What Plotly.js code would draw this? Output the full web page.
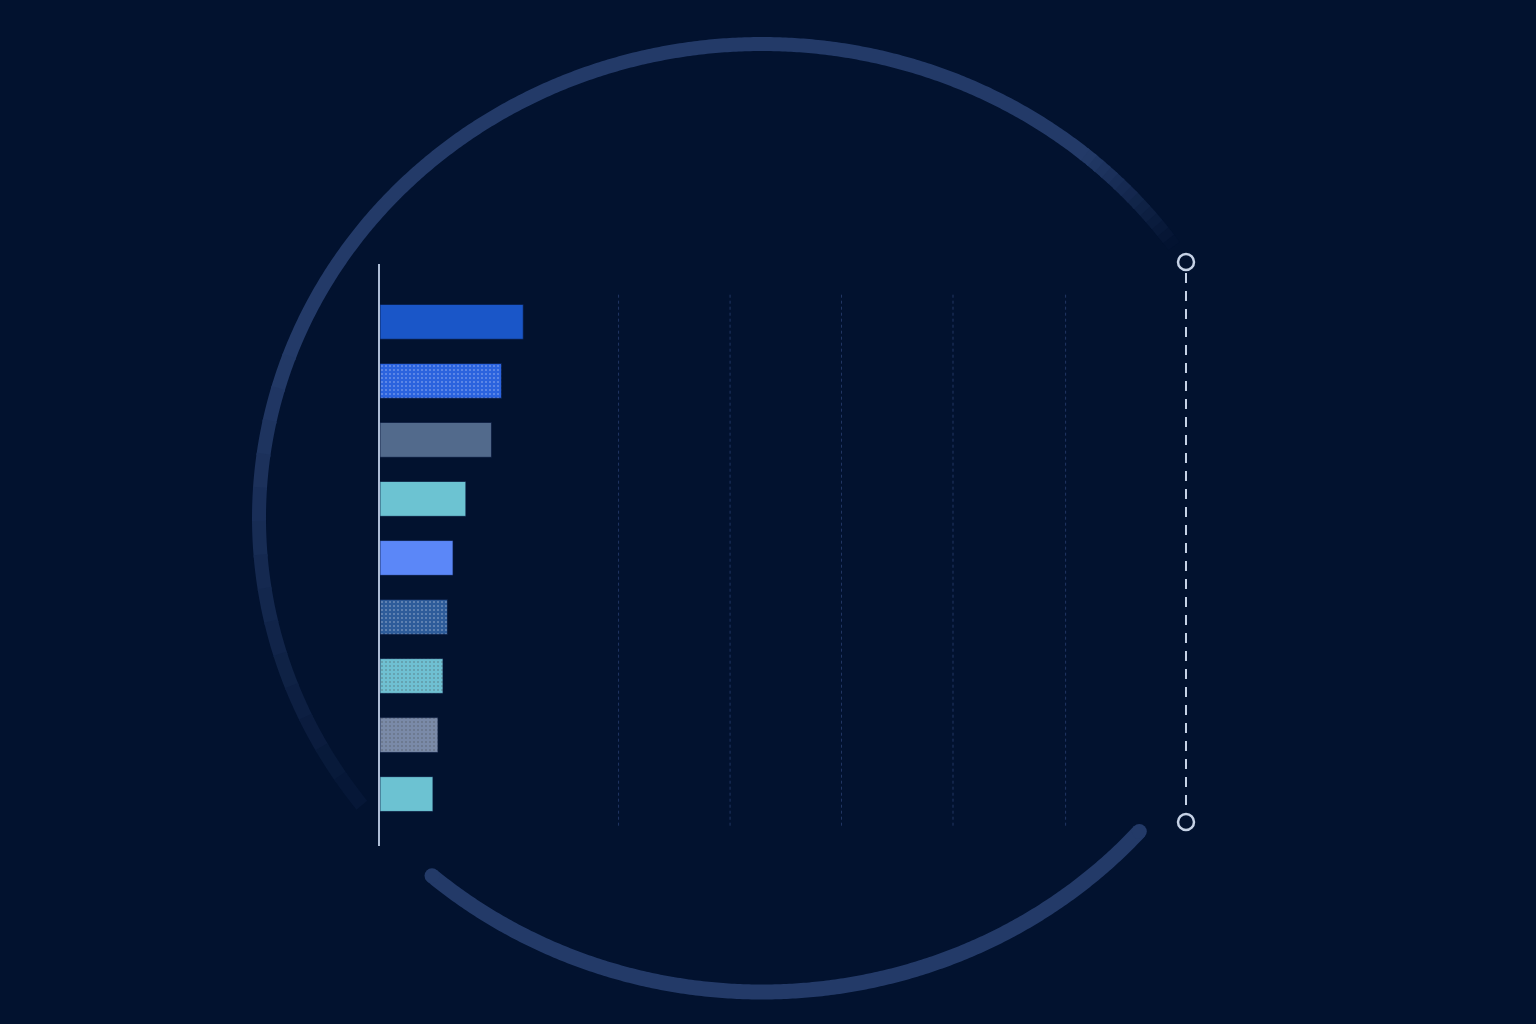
<!DOCTYPE html>
<html>
<head>
<meta charset="utf-8">
<script src="https://cdn.plot.ly/plotly-3.0.1.min.js"></script>
<style>
  html, body { margin: 0; padding: 0; background: #02122f; }
  #chart { width: 1536px; height: 1024px; }
</style>
</head>
<body>
<div id="chart"></div>
<script>
// bar data (top to bottom)
var categories = ['c1', 'c2', 'c3', 'c4', 'c5', 'c6', 'c7', 'c8', 'c9'];
var values = [12.85, 10.9, 10.0, 7.7, 6.55, 6.05, 5.65, 5.2, 4.75];
var barColors = ['#1a56c8', '#2b63de', '#526a8c', '#6cc3d2', '#5b87f8', '#2e5c9a', '#6fc0d2', '#7a8aa8', '#6cc2d2'];
var barPattern = ['', '.', '', '', '', '.', '.', '.', ''];
var gridVals = [21.4, 31.4, 41.4, 51.4, 61.5];

var BG = '#02122f';
var ARC = [35, 58, 104];   // rgb of the ring
var bgRgb = [2, 18, 47];

// ring geometry on the pixel overlay axes
var cx = 762, cy = 518, rx = 503, ry = 474;

function ellipsePts(a0, a1, n) {
  var xs = [], ys = [];
  for (var i = 0; i <= n; i++) {
    var a = (a0 + (a1 - a0) * i / n) * Math.PI / 180;
    xs.push(cx + rx * Math.cos(a));
    ys.push(cy - ry * Math.sin(a));
  }
  return {x: xs, y: ys};
}
function mix(t) {
  var c = ARC.map(function (v, k) { return Math.round(bgRgb[k] + (v - bgRgb[k]) * t); });
  return 'rgb(' + c.join(',') + ')';
}

var traces = [];

// upper ring: fades at both ends
var segs = [];
var fadeA = [35, 50], fadeB = [160, 217];
var steps = 14;
for (var i = 0; i < steps; i++) {
  var a0 = fadeA[0] + (fadeA[1] - fadeA[0]) * i / steps;
  var a1 = fadeA[0] + (fadeA[1] - fadeA[0]) * (i + 1) / steps + 0.3;
  segs.push([a0, a1, (i + 0.5) / steps]);
}
segs.push([fadeA[1], fadeB[0] + 0.3, 1]);
for (var j = 0; j < steps; j++) {
  var b0 = fadeB[0] + (fadeB[1] - fadeB[0]) * j / steps;
  var b1 = fadeB[0] + (fadeB[1] - fadeB[0]) * (j + 1) / steps + 0.3;
  segs.push([b0, b1, 1 - (j + 0.5) / steps * 0.9]);
}
segs.forEach(function (s) {
  var p = ellipsePts(s[0], s[1], Math.max(6, Math.round((s[1] - s[0]) * 3)));
  traces.push({
    type: 'scatter', mode: 'lines', x: p.x, y: p.y, xaxis: 'x2', yaxis: 'y2',
    line: {color: mix(s[2]), width: 14, simplify: false}, hoverinfo: 'skip', showlegend: false
  });
});

// lower ring with round ends
var low = ellipsePts(229, 318.6, 270);
traces.push({
  type: 'scatter', mode: 'lines', x: low.x, y: low.y, xaxis: 'x2', yaxis: 'y2',
  line: {color: mix(1), width: 15, simplify: false}, hoverinfo: 'skip', showlegend: false
});
traces.push({
  type: 'scatter', mode: 'markers', x: [low.x[0], low.x[low.x.length - 1]],
  y: [low.y[0], low.y[low.y.length - 1]], xaxis: 'x2', yaxis: 'y2',
  marker: {color: mix(1), size: 15, line: {width: 0}}, hoverinfo: 'skip', showlegend: false
});

// dotted grid lines
gridVals.forEach(function (g) {
  traces.push({
    type: 'scatter', mode: 'lines', x: [g, g], y: [-0.46, 8.58], yaxis: 'y3',
    line: {color: '#213563', width: 1, dash: 'dot'}, hoverinfo: 'skip', showlegend: false
  });
});

// bars
traces.push({
  type: 'bar', orientation: 'h', y: categories, x: values,
  marker: {
    color: barColors,
    line: {color: 'rgba(8,24,60,0.7)', width: 1},
    pattern: {shape: barPattern, fillmode: 'overlay', fgcolor: '#a8d8ec', fgopacity: 0.3, size: 4, solidity: 0.2}
  },
  hoverinfo: 'x', showlegend: false
});

// dashed marker line on the right
traces.push({
  type: 'scatter', mode: 'lines', x: [1186, 1186], y: [273, 812], xaxis: 'x2', yaxis: 'y2',
  line: {color: '#c6d2e6', width: 2, dash: '10px,8px'}, hoverinfo: 'skip', showlegend: false
});
traces.push({
  type: 'scatter', mode: 'markers', x: [1186, 1186], y: [262, 822], xaxis: 'x2', yaxis: 'y2',
  marker: {symbol: 'circle-open', size: 16, color: '#c6d2e6', line: {width: 2.5, color: '#c6d2e6'}},
  hoverinfo: 'skip', showlegend: false
});

var W = 1536, H = 1024;
var layout = {
  width: W, height: H,
  margin: {l: 0, r: 0, t: 0, b: 0},
  paper_bgcolor: BG, plot_bgcolor: 'rgba(0,0,0,0)',
  bargap: 0.41,
  xaxis: {
    domain: [380 / W, 1186 / W], range: [0, 72.3],
    showgrid: false, zeroline: false, showticklabels: false, ticks: '', showline: false
  },
  yaxis: {
    domain: [1 - 846 / H, 1 - 264 / H], type: 'category', range: [8.88, -0.98],
    showgrid: false, zeroline: false, showticklabels: false, ticks: '',
    showline: true, linecolor: '#aebdd6', linewidth: 2
  },
  yaxis3: {
    overlaying: 'y', range: [8.88, -0.98],
    showgrid: false, zeroline: false, showticklabels: false, ticks: '', showline: false
  },
  xaxis2: {
    domain: [0, 1], range: [0, W], anchor: 'y2',
    showgrid: false, zeroline: false, showticklabels: false, ticks: '', showline: false
  },
  yaxis2: {
    domain: [0, 1], range: [H, 0], anchor: 'x2',
    showgrid: false, zeroline: false, showticklabels: false, ticks: '', showline: false
  }
};

Plotly.newPlot('chart', traces, layout, {displayModeBar: false, staticPlot: true});
</script>
</body>
</html>
